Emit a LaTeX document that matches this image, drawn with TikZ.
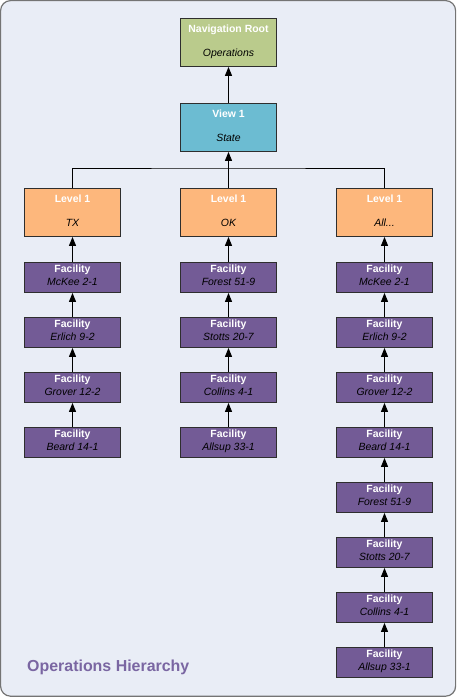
\documentclass[tikz,border=0pt]{standalone}
\usepackage{fontspec}
\setmainfont{Liberation Sans}
\usetikzlibrary{arrows.meta}
\definecolor{bgc}{HTML}{E9EDF6}
\definecolor{framec}{HTML}{747474}
\definecolor{boxline}{HTML}{2E2E2E}
\definecolor{navc}{HTML}{BACB8C}
\definecolor{viewc}{HTML}{6CBCD2}
\definecolor{lvlc}{HTML}{FDB77C}
\definecolor{facc}{HTML}{735B96}
\definecolor{titlec}{HTML}{7A66A2}
\tikzset{
  box/.style={draw=boxline, line width=0.9bp, minimum width=96bp, inner sep=0pt, anchor=north},
  facbox/.style={box, fill=facc, minimum height=30bp},
  lvlbox/.style={box, fill=lvlc, minimum height=48bp},
  viewbox/.style={box, fill=viewc, minimum height=48bp},
  navbox/.style={box, fill=navc, minimum height=48bp},
  ttl/.style={font=\fontsize{10.5}{12}\selectfont\bfseries, text=white, anchor=base, inner sep=0pt},
  sub/.style={font=\fontsize{10.5}{12}\selectfont\itshape, text=black, anchor=base, inner sep=0pt},
  arr/.style={-{Triangle[length=9bp,width=7bp]}, line width=0.9bp, draw=black},
  link/.style={line width=0.9bp, draw=black},
}
\newcommand\drawbox[8]{%
  \node[#1] (#2) at (#3,#4) {};
  \node[ttl] (#2t) at (#3,#4+#7) {#5};
  \node[sub] (#2s) at (#3,#4+#8) {#6};
}
\newcommand\facrow[4]{\drawbox{facbox}{#1}{#2}{#3}{Facility}{#4}{10.6}{23.3}}
\begin{document}
\begin{tikzpicture}[x=1bp,y=-1bp]
\useasboundingbox (0,0) rectangle (457,697);
\draw[fill=bgc, draw=framec, line width=1.2bp, rounded corners=10bp] (0.6,0.6) rectangle (455.6,696.2);

\drawbox{navbox}{nav}{228.5}{18}{Navigation Root}{Operations}{14.7}{39}
\drawbox{viewbox}{view}{228.5}{103}{View 1}{State}{14.2}{38.7}
\drawbox{lvlbox}{lA}{72.5}{188}{Level 1}{TX}{14}{38}
\drawbox{lvlbox}{lB}{228.5}{188}{Level 1}{OK}{14}{38}
\drawbox{lvlbox}{lC}{384.5}{188}{Level 1}{All...}{14}{38}

\facrow{a1}{72.5}{262}{McKee 2-1}
\facrow{a2}{72.5}{317}{Erlich 9-2}
\facrow{a3}{72.5}{372}{Grover 12-2}
\facrow{a4}{72.5}{427}{Beard 14-1}

\facrow{b1}{228.5}{262}{Forest 51-9}
\facrow{b2}{228.5}{317}{Stotts 20-7}
\facrow{b3}{228.5}{372}{Collins 4-1}
\facrow{b4}{228.5}{427}{Allsup 33-1}

\facrow{c1}{384.5}{262}{McKee 2-1}
\facrow{c2}{384.5}{317}{Erlich 9-2}
\facrow{c3}{384.5}{372}{Grover 12-2}
\facrow{c4}{384.5}{427}{Beard 14-1}
\facrow{c5}{384.5}{482}{Forest 51-9}
\facrow{c6}{384.5}{537}{Stotts 20-7}
\facrow{c7}{384.5}{592}{Collins 4-1}
\facrow{c8}{384.5}{647}{Allsup 33-1}

\coordinate (bus) at (228.5,168);
\draw[arr] (view.north) -- (nav.south);
\draw[link] (lA.north) |- (bus) -| (lC.north);
\draw[arr] (lB.north) -- (view.south);

\draw[arr] (a1.north) -- (lA.south);
\draw[arr] (a2.north) -- (a1.south);
\draw[arr] (a3.north) -- (a2.south);
\draw[arr] (a4.north) -- (a3.south);

\draw[arr] (b1.north) -- (lB.south);
\draw[arr] (b2.north) -- (b1.south);
\draw[arr] (b3.north) -- (b2.south);
\draw[arr] (b4.north) -- (b3.south);

\draw[arr] (c1.north) -- (lC.south);
\draw[arr] (c2.north) -- (c1.south);
\draw[arr] (c3.north) -- (c2.south);
\draw[arr] (c4.north) -- (c3.south);
\draw[arr] (c5.north) -- (c4.south);
\draw[arr] (c6.north) -- (c5.south);
\draw[arr] (c7.north) -- (c6.south);
\draw[arr] (c8.north) -- (c7.south);

\node[font=\fontsize{16}{18}\selectfont\bfseries, text=titlec, anchor=base west, inner sep=0pt] (title) at (27,671) {Operations Hierarchy};
\end{tikzpicture}
\end{document}
